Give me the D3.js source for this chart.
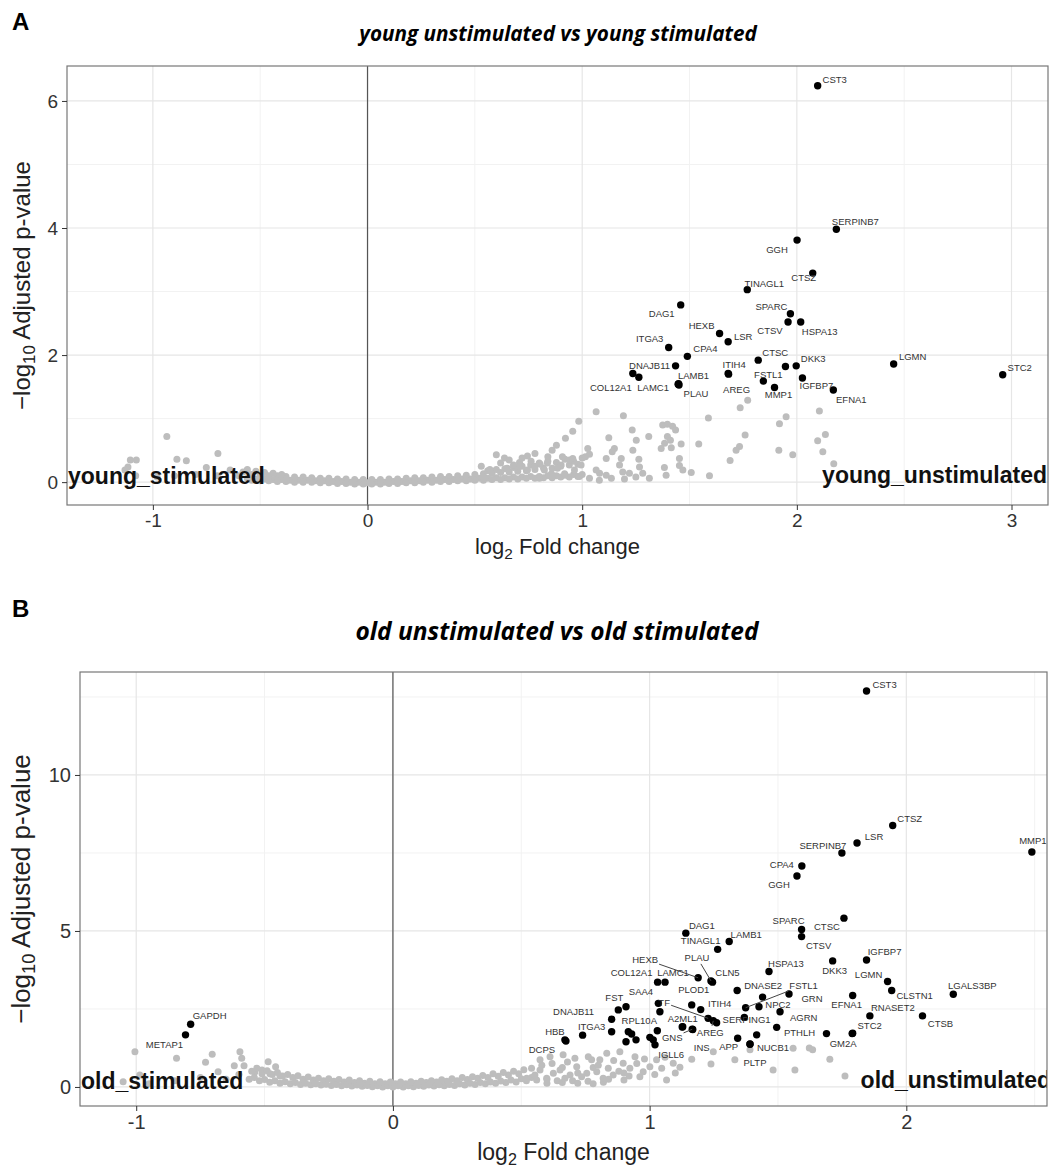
<!DOCTYPE html>
<html><head><meta charset="utf-8">
<script src="https://cdn.jsdelivr.net/npm/d3@7"></script>
<style>body{margin:0;background:#fff}</style></head>
<body>
<svg id="c" width="1051" height="1169"></svg>
<script>
// ---------------- DATA : panel A (young) ----------------
const titleA = "young unstimulated vs young stimulated";
const cornerA = ["young_stimulated", "young_unstimulated"];
const xTicksA = [-1, 0, 1, 2, 3];
const yTicksA = [0, 2, 4, 6];
const sigA_genes = ["CST3","SERPINB7","GGH","CTSZ","TINAGL1","DAG1","SPARC","CTSV","HSPA13","HEXB","LSR","ITGA3","CPA4","CTSC","","DKK3","LGMN","STC2","DNAJB11","COL12A1","","LAMB1","LAMC1","PLAU","ITIH4","AREG","FSTL1","MMP1","IGFBP7","EFNA1"];
const sigA_lfc = [2.097,2.184,2.001,2.074,1.769,1.459,1.970,1.959,2.018,1.640,1.680,1.403,1.490,1.820,1.947,1.997,2.451,2.959,1.435,1.236,1.264,1.449,1.447,1.451,1.680,1.682,1.844,1.896,2.026,2.170];
const sigA_p = [6.24,3.98,3.81,3.29,3.03,2.79,2.65,2.52,2.52,2.34,2.21,2.12,1.98,1.92,1.82,1.83,1.86,1.69,1.83,1.71,1.65,1.55,1.54,1.53,1.71,1.70,1.59,1.49,1.64,1.45];
const bgA = [
 [-0.935,0.72],[-1.077,0.35],[-1.105,0.35],[-0.888,0.36],[-0.844,0.335],[-0.697,0.45],[-1.116,0.24],[-0.751,0.23],[-1.13,0.19],[-1.08,0.1],[-0.98,0.08],[-0.9,0.1],[-0.8,0.12],[-0.7,0.1],[-0.64,0.19],[-0.6,0.1],[-0.55,0.09],
 [-0.56,0.06],[-0.52,0.05],[-0.48,0.05],[-0.44,0.04],[-0.40,0.04],[-0.36,0.03],[-0.32,0.03],[-0.28,0.03],[-0.24,0.02],[-0.20,0.02],[-0.16,0.01],[-0.12,0.01],[-0.08,0.0],[-0.04,0.0],[0.0,-0.01],[0.04,0.0],[0.08,0.0],[0.12,0.01],[0.16,0.01],[0.20,0.02],[0.24,0.02],[0.28,0.03],[0.32,0.03],[0.36,0.04],[0.40,0.04],[0.44,0.05],[0.48,0.05],[0.52,0.06],[0.56,0.06],[0.60,0.07],[0.64,0.07],[0.68,0.08],[0.72,0.08],[0.76,0.09],[0.80,0.09],[0.84,0.1],[0.88,0.1],[0.92,0.11],[0.96,0.12],[1.0,0.12],
 [-0.54,0.12],[-0.50,0.11],[-0.46,0.10],[-0.42,0.10],[-0.38,0.09],[-0.34,0.08],[-0.30,0.08],[-0.26,0.07],[-0.22,0.06],[-0.18,0.06],[-0.14,0.05],[-0.10,0.05],[-0.06,0.04],[-0.02,0.04],[0.02,0.04],[0.06,0.04],[0.10,0.05],[0.14,0.05],[0.18,0.06],[0.22,0.07],[0.26,0.07],[0.30,0.08],[0.34,0.09],[0.38,0.09],[0.42,0.10],[0.46,0.11],[0.50,0.12],[0.54,0.13],[0.58,0.14],[0.62,0.15],[0.66,0.16],[0.70,0.17],[0.74,0.18],[0.78,0.20],[0.82,0.22],[0.86,0.22],[0.90,0.25],[0.94,0.27],[0.98,0.28],
 [-0.54,0.03],[-0.50,0.02],[-0.46,0.02],[-0.42,0.01],[-0.38,0.01],[-0.34,0.0],[-0.30,0.0],[-0.26,0.0],[-0.22,-0.01],[-0.18,-0.01],[-0.14,-0.02],[-0.10,-0.02],[-0.06,-0.03],[-0.02,-0.03],[0.02,-0.03],[0.06,-0.03],[0.10,-0.02],[0.14,-0.02],[0.18,-0.01],[0.22,-0.01],[0.26,0.0],[0.30,0.0],[0.34,0.01],[0.38,0.01],[0.42,0.02],[0.46,0.02],[0.50,0.03],[0.54,0.03],[0.58,0.04],[0.62,0.04],[0.66,0.05],[0.70,0.05],[0.74,0.06],[0.78,0.06],[0.82,0.07],[0.86,0.07],[0.90,0.08],[0.94,0.08],[0.98,0.09],
 [-0.58,0.16],[-0.56,0.2],[-0.52,0.17],[-0.48,0.15],[-0.44,0.14],[-0.40,0.12],[0.56,0.18],[0.60,0.2],[0.64,0.21],[0.68,0.23],[0.72,0.25],[0.76,0.27],[0.80,0.3],[0.84,0.33],[0.88,0.31],[0.92,0.36],[0.96,0.33],[1.0,0.38],
 [0.60,0.43],[0.638,0.38],[0.708,0.31],[0.745,0.41],[0.762,0.33],[0.804,0.28],[0.53,0.25],[0.57,0.2],[0.65,0.22],[0.68,0.27],[0.62,0.3],[0.66,0.35],[0.72,0.38],[0.78,0.45],[0.84,0.4],[0.86,0.5],[0.88,0.58],
 [1.065,1.107],[1.192,1.044],[0.984,0.96],[0.956,0.80],[0.922,0.69],[1.124,0.70],[1.233,0.82],[1.252,0.66],[1.310,0.72],[1.375,0.90],[1.397,0.91],[1.421,0.88],[1.435,0.82],[1.397,0.72],[1.411,0.66],[1.384,0.61],[1.461,0.60],[1.543,0.60],[1.588,1.01],[1.736,1.17],[1.771,1.29],[1.759,0.74],[1.733,0.56],[1.717,0.50],[1.689,0.34],[1.593,0.10],[1.919,0.92],[1.950,1.03],[1.916,0.50],[1.981,0.43],[2.105,1.12],[2.133,0.75],[2.097,0.65],[2.121,0.48],[2.172,0.29],
 [1.026,0.53],[1.034,0.44],[1.015,0.40],[0.995,0.27],[1.150,0.53],[1.140,0.48],[1.112,0.37],[1.182,0.37],[1.174,0.27],[1.236,0.50],[1.264,0.36],[1.267,0.24],[1.282,0.14],[1.368,0.53],[1.415,0.54],[1.453,0.37],[1.383,0.23],[1.391,0.11],[1.453,0.26],[1.469,0.19],[1.508,0.15],[1.220,0.14],[1.189,0.16],[1.112,0.11],[1.081,0.14],[1.065,0.19],[0.908,0.40],[0.902,0.27],[0.941,0.35],[0.956,0.37],
 [0.824,0.19],[0.857,0.13],[0.885,0.22],[0.918,0.13],[0.964,0.19],[0.987,0.09],[0.838,0.30],[0.778,0.25],[0.745,0.19],[0.708,0.25],[0.801,0.06],[1.034,0.06],[1.08,0.03],[1.136,0.06],[1.197,0.05],[1.313,0.06],[1.25,0.08]
];
const labelPosA = {CST3:[17,-3],SERPINB7:[19,-4],GGH:[-20,13],CTSZ:[-9,8],TINAGL1:[17,-3],DAG1:[-19,12],SPARC:[-19,-4],CTSV:[-18,12],HSPA13:[19,13],HEXB:[-18,-4],LSR:[15,-2],ITGA3:[-19,-5],CPA4:[18,-4],CTSC:[17,-4],DKK3:[17,-4],LGMN:[19,-4],STC2:[17,-4],DNAJB11:[-26,3],COL12A1:[-22,18],LAMC1:[-25,7],LAMB1:[15,-5],PLAU:[17,12],AREG:[8,19],ITIH4:[6,-5],FSTL1:[5,-3],MMP1:[4,11],IGFBP7:[14,11],EFNA1:[18,13]};

// ---------------- DATA : panel B (old) ----------------
const titleB = "old unstimulated vs old stimulated";
const cornerB = ["old_stimulated", "old_unstimulated"];
const xTicksB = [-1, 0, 1, 2];
const yTicksB = [0, 5, 10];
const sigB_genes = ["CST3","CTSZ","LSR","SERPINB7","MMP1","CPA4","GGH","CTSC","SPARC","CTSV","DAG1","LAMB1","TINAGL1","IGFBP7","DKK3","HSPA13","LGMN","CLSTN1","LGALS3BP","HEXB","CLN5","PLAU","COL12A1","LAMC1","DNASE2","","GRN","FSTL1","NPC2","","","AGRN","","APP","NUCB1","PLTP","PTHLH","EFNA1","RNASET2","CTSB","STC2","GM2A","PLOD1","ITIH4","TF","AREG","SERPING1","","","FST","SAA4","DNAJB11","ITGA3","","HBB","DCPS","RPL10A","","","","","","","","A2ML1","IGLL6","GNS","INS","GAPDH","METAP1"];
const sigB_lfc = [1.845,1.947,1.808,1.749,2.489,1.593,1.574,1.757,1.592,1.592,1.141,1.310,1.265,1.845,1.713,1.465,1.927,1.943,2.183,1.189,1.245,1.239,1.031,1.060,1.341,1.440,1.543,1.374,1.426,1.508,1.369,1.495,1.417,1.343,1.391,1.391,1.689,1.791,1.858,2.063,1.791,1.789,1.164,1.199,1.228,1.248,1.261,1.034,1.040,0.878,0.908,0.852,0.852,0.739,0.670,0.674,0.917,0.930,0.908,0.947,1.001,1.014,1.021,1.030,1.129,1.127,1.166,1.168,-0.788,-0.808];
const sigB_p = [12.69,8.38,7.82,7.50,7.53,7.08,6.76,5.41,5.05,4.82,4.93,4.66,4.41,4.07,4.04,3.70,3.38,3.09,2.97,3.50,3.36,3.40,3.36,3.36,3.09,2.88,2.98,2.54,2.57,2.41,2.23,1.91,1.67,1.56,1.38,1.37,1.71,2.93,2.28,2.28,1.72,1.71,2.63,2.48,2.20,2.12,2.06,2.68,2.41,2.47,2.57,2.17,1.77,1.66,1.51,1.47,1.77,1.70,1.45,1.51,1.59,1.51,1.35,1.80,1.93,1.92,1.85,1.84,2.01,1.67];
const bgB = [
 [-1.005,1.13],[-0.843,0.92],[-0.730,0.79],[-0.704,1.05],[-0.596,1.13],[-0.589,0.92],[-0.580,0.68],[-0.618,0.68],[-0.681,0.49],[-0.486,0.81],[-0.457,0.65],[-1.051,0.17],[-0.986,0.38],[-0.538,0.48],[-0.51,0.54],[-0.479,0.42],[-0.44,0.35],[-0.95,0.1],[-0.85,0.2],[-0.75,0.3],[-0.65,0.25],[-0.6,0.4],
 [-0.56,0.25],[-0.52,0.2],[-0.48,0.15],[-0.44,0.12],[-0.40,0.1],[-0.36,0.08],[-0.32,0.07],[-0.28,0.06],[-0.24,0.05],[-0.20,0.04],[-0.16,0.03],[-0.12,0.02],[-0.08,0.01],[-0.04,0.0],[0.0,0.0],[0.04,0.0],[0.08,0.01],[0.12,0.02],[0.16,0.03],[0.20,0.04],[0.24,0.05],[0.28,0.06],[0.32,0.08],[0.36,0.1],[0.40,0.12],[0.44,0.14],[0.48,0.16],[0.52,0.2],
 [-0.55,0.5],[-0.51,0.42],[-0.47,0.4],[-0.43,0.35],[-0.39,0.3],[-0.35,0.25],[-0.31,0.22],[-0.27,0.2],[-0.23,0.18],[-0.19,0.16],[-0.15,0.14],[-0.11,0.12],[-0.07,0.1],[-0.03,0.1],[0.01,0.1],[0.05,0.1],[0.09,0.12],[0.13,0.14],[0.17,0.16],[0.21,0.18],[0.25,0.2],[0.29,0.24],[0.33,0.28],[0.37,0.3],[0.41,0.34],[0.45,0.38],[0.49,0.42],
 [-0.54,0.3],[-0.50,0.24],[-0.46,0.2],[-0.42,0.17],[-0.38,0.14],[-0.34,0.12],[-0.30,0.1],[-0.26,0.09],[-0.22,0.08],[-0.18,0.07],[-0.14,0.06],[-0.10,0.05],[-0.06,0.04],[-0.02,0.04],[0.02,0.04],[0.06,0.04],[0.10,0.05],[0.14,0.06],[0.18,0.07],[0.22,0.08],[0.26,0.1],[0.30,0.12],[0.34,0.14],[0.38,0.16],[0.42,0.19],[0.46,0.22],[0.50,0.26],[0.54,0.3],
 [-0.53,0.6],[-0.49,0.52],[-0.45,0.46],[-0.41,0.4],[-0.37,0.36],[-0.33,0.32],[-0.29,0.28],[-0.25,0.26],[-0.21,0.24],[-0.17,0.22],[-0.13,0.2],[-0.09,0.18],[-0.05,0.17],[-0.01,0.16],[0.03,0.16],[0.07,0.17],[0.11,0.18],[0.15,0.2],[0.19,0.23],[0.23,0.26],[0.27,0.3],[0.31,0.33],[0.35,0.37],[0.39,0.42],[0.43,0.46],[0.47,0.5],[0.51,0.55],
 [0.56,0.22],[0.60,0.25],[0.64,0.20],[0.70,0.20],[0.76,0.18],[0.82,0.15],[0.90,0.22],
 [0.54,0.6],[0.58,0.7],[0.62,0.75],[0.66,0.62],[0.68,0.8],[0.72,0.45],[0.78,0.62],[0.8,0.7],[0.86,0.85],[0.88,0.5],[0.92,0.35],[0.95,0.75],[0.98,0.9],[1.02,0.4],[1.06,0.95],[1.1,0.45],[0.6,0.12],[0.66,0.14],[0.72,0.12],[0.78,0.1],[0.84,0.25],[0.9,0.45],
 [0.521,0.28],[0.553,0.38],[0.573,0.54],[0.599,0.28],[0.625,0.44],[0.651,0.54],[0.670,0.28],[0.690,0.38],[0.716,0.65],[0.735,0.33],[0.755,0.44],[0.774,0.87],[0.794,0.49],[0.819,0.28],[0.839,0.60],[0.858,0.38],[0.884,1.13],[0.897,0.76],[0.923,0.60],[0.943,0.97],[0.962,0.33],[0.975,0.49],[1.001,0.65],[1.027,0.87],[1.047,0.60],[1.066,0.22],[1.092,0.76],[1.118,0.63],[1.164,0.89],[0.709,0.92],[0.761,0.97],[0.806,0.87],[0.573,0.87],[0.612,0.97],[0.663,1.03],[0.833,1.08],
 [1.248,1.13],[1.391,1.19],[1.481,0.54],[1.566,0.54],[1.635,1.19],[1.702,0.89],[1.761,0.35],[1.622,1.25],[1.559,1.24],[1.239,0.74],[1.332,0.87]
];
const labelPosB = {CST3:[18,-3],CTSZ:[17,-4],LSR:[17,-3],SERPINB7:[-19,-4],MMP1:[1,-8],CPA4:[-20,2],GGH:[-18,12],CTSC:[-17,12],SPARC:[-13,-5],CTSV:[17,12],DAG1:[16,-4],LAMB1:[17,-4],TINAGL1:[-17,-5],IGFBP7:[18,-5],DKK3:[2,13],HSPA13:[17,-5],LGMN:[-19,-4],CLSTN1:[23,8],LGALS3BP:[19,-5],HEXB:[-53,-15,1],CLN5:[15,-6],PLAU:[-14,-20,1],COL12A1:[-26,-6],LAMC1:[8,-6],DNASE2:[26,-2],GRN:[23,8],FSTL1:[58,-19,1],NPC2:[19,1],AGRN:[27,-6],APP:[-9,12],NUCB1:[23,7],PLTP:[5,22],PTHLH:[-27,2],EFNA1:[-6,12],RNASET2:[23,-5],CTSB:[18,11],STC2:[17,-4],GM2A:[-9,13],PLOD1:[2,-12],ITIH4:[19,-3],TF:[-44,-12,1],AREG:[-3,15,1],SERPING1:[30,0],FST:[-4,-9],SAA4:[15,-12],DNAJB11:[-38,-4],ITGA3:[-20,-2],HBB:[-10,-5],DCPS:[-24,12],RPL10A:[11,-8],A2ML1:[0,-5],IGLL6:[-11,31],GNS:[-20,12,1],INS:[9,21],GAPDH:[19,-5],METAP1:[-21,13]};

// ---------------- DRAWING ----------------
const svg = d3.select("#c");
svg.append("rect").attr("width",1051).attr("height",1169).attr("fill","#fff");
const FONT = "'Liberation Sans', Arial, sans-serif";

function fitText(sel, target){
  const w = sel.node().getComputedTextLength();
  const fs = parseFloat(sel.attr("font-size"));
  sel.attr("font-size", fs*target/w);
}

function edgePoint(b, px, py){
  const cx=b.x+b.width/2, cy=b.y+b.height/2, dx=px-cx, dy=py-cy;
  const tx = dx!==0 ? (b.width/2+1)/Math.abs(dx) : Infinity;
  const ty = dy!==0 ? (b.height/2+1)/Math.abs(dy) : Infinity;
  const t = Math.min(tx,ty,1);
  return [cx+dx*t, cy+dy*t];
}

function panel(cfg){
  const g = svg.append("g");
  const x = d3.scaleLinear().domain(cfg.xDomain).range([cfg.left, cfg.right]);
  const y = d3.scaleLinear().domain(cfg.yDomain).range([cfg.bottom, cfg.top]);
  const id = "clip"+cfg.key;
  svg.append("clipPath").attr("id",id).append("rect")
    .attr("x",cfg.left).attr("y",cfg.top).attr("width",cfg.right-cfg.left).attr("height",cfg.bottom-cfg.top);

  const grid = g.append("g");
  cfg.xMinor.forEach(v=>grid.append("line").attr("x1",x(v)).attr("x2",x(v)).attr("y1",cfg.top).attr("y2",cfg.bottom).attr("stroke","#f2f2f2").attr("stroke-width",1));
  cfg.yMinor.forEach(v=>grid.append("line").attr("y1",y(v)).attr("y2",y(v)).attr("x1",cfg.left).attr("x2",cfg.right).attr("stroke","#f2f2f2").attr("stroke-width",1));
  cfg.xTicks.forEach(v=>grid.append("line").attr("x1",x(v)).attr("x2",x(v)).attr("y1",cfg.top).attr("y2",cfg.bottom).attr("stroke","#e6e6e6").attr("stroke-width",1.2));
  cfg.yTicks.forEach(v=>grid.append("line").attr("y1",y(v)).attr("y2",y(v)).attr("x1",cfg.left).attr("x2",cfg.right).attr("stroke","#e6e6e6").attr("stroke-width",1.2));

  g.append("line").attr("x1",x(0)).attr("x2",x(0)).attr("y1",cfg.top).attr("y2",cfg.bottom).attr("stroke","#555").attr("stroke-width",1.2);

  const pts = g.append("g").attr("clip-path","url(#"+id+")");
  pts.selectAll("circle.bg").data(cfg.bg).enter().append("circle")
    .attr("cx",d=>x(d[0])).attr("cy",d=>y(d[1])).attr("r",3.5).attr("fill","#bdbdbd");
  const sig = cfg.genes.map((gname,i)=>({g:gname, x:cfg.lfc[i], y:cfg.p[i]}));
  pts.selectAll("circle.sig").data(sig).enter().append("circle")
    .attr("cx",d=>x(d.x)).attr("cy",d=>y(d.y)).attr("r",3.7).attr("fill","#000");

  const lab = g.append("g");
  sig.forEach(d=>{
    const pos = cfg.labelPos[d.g]; if(!pos || !d.g) return;
    const px=x(d.x), py=y(d.y);
    const t = lab.append("text").attr("x",px+pos[0]).attr("y",py+pos[1])
      .attr("text-anchor","middle").attr("font-family",FONT).attr("font-size",9.5)
      .attr("fill","#333").text(d.g);
    if(pos[2]){
      const b = t.node().getBBox();
      const e = edgePoint(b, px, py);
      lab.append("line").attr("x1",e[0]).attr("y1",e[1]).attr("x2",px).attr("y2",py)
        .attr("stroke","#444").attr("stroke-width",1);
    }
  });

  const ann = g.append("g").attr("clip-path","url(#"+id+")");
  ann.append("text").attr("x",cfg.left+1).attr("y",y(0)+2).attr("font-family",FONT).attr("font-weight","bold")
    .attr("font-size",23).attr("fill","#111").text(cfg.corner[0]);
  ann.append("text").attr("x",cfg.cornerRight).attr("y",y(0)+1).attr("text-anchor","end").attr("font-family",FONT).attr("font-weight","bold")
    .attr("font-size",23).attr("fill","#111").text(cfg.corner[1]);

  g.append("rect").attr("x",cfg.left).attr("y",cfg.top).attr("width",cfg.right-cfg.left).attr("height",cfg.bottom-cfg.top)
    .attr("fill","none").attr("stroke","#777").attr("stroke-width",1.2);

  const xa = g.append("g").attr("transform",`translate(0,${cfg.bottom})`)
    .call(d3.axisBottom(x).tickValues(cfg.xTicks).tickSize(5).tickPadding(4).tickFormat(d=>d<0?"-"+Math.abs(d):d));
  const ya = g.append("g").attr("transform",`translate(${cfg.left},0)`)
    .call(d3.axisLeft(y).tickValues(cfg.yTicks).tickSize(5).tickPadding(4).tickFormat(d=>d));
  [xa,ya].forEach(a=>{
    a.select(".domain").remove();
    a.selectAll(".tick line").attr("stroke","#333");
    a.selectAll(".tick text").attr("font-family",FONT).attr("font-size",cfg.tickFont).attr("fill","#333");
  });

  const xt = g.append("text").attr("x",(cfg.left+cfg.right)/2).attr("y",cfg.xTitleY).attr("text-anchor","middle")
    .attr("font-family",FONT).attr("font-size",cfg.xTitleFont).attr("fill","#222");
  xt.append("tspan").text("log");
  xt.append("tspan").attr("font-size",cfg.xTitleFont*0.7).attr("dy",5).text("2");
  xt.append("tspan").attr("dy",-5).text(" Fold change");

  const yt = g.append("text").attr("transform",`translate(${cfg.yTitleX},${(cfg.top+cfg.bottom)/2}) rotate(-90)`)
    .attr("text-anchor","middle").attr("font-family",FONT).attr("font-size",cfg.yTitleFont).attr("fill","#222");
  yt.append("tspan").text("\u2212log");
  yt.append("tspan").attr("font-size",cfg.yTitleFont*0.7).attr("dy",5).text("10");
  yt.append("tspan").attr("dy",-5).text(" Adjusted p-value");

  const mt = svg.append("text").attr("x",cfg.titleX).attr("y",cfg.titleY).attr("text-anchor","middle")
    .attr("font-family","'Open Sans', sans-serif").attr("font-weight","bold").attr("font-style","italic")
    .attr("font-size",20).attr("fill","#000").text(cfg.title);
  fitText(mt, cfg.titleW);
  svg.append("text").attr("x",12).attr("y",cfg.letterY).attr("font-family",FONT).attr("font-weight","bold")
    .attr("font-size",24).attr("fill","#000").text(cfg.letter);
}

panel({key:"A", left:67, right:1048, top:66, bottom:505, xDomain:[-1.40,3.17], yDomain:[-0.36,6.55],
  xTicks:xTicksA, xMinor:[-0.5,0.5,1.5,2.5], yTicks:yTicksA, yMinor:[1,3,5],
  genes:sigA_genes, lfc:sigA_lfc, p:sigA_p, bg:bgA, labelPos:labelPosA, corner:cornerA, cornerRight:1047,
  tickFont:19, xTitleFont:22, yTitleFont:24, xTitleY:554, yTitleX:30, title:titleA, titleX:558, titleY:41, titleW:398, letter:"A", letterY:30});

panel({key:"B", left:80, right:1047, top:672, bottom:1106, xDomain:[-1.219,2.548], yDomain:[-0.61,13.30],
  xTicks:xTicksB, xMinor:[-0.5,0.5,1.5,2.5], yTicks:yTicksB, yMinor:[2.5,7.5,12.5],
  genes:sigB_genes, lfc:sigB_lfc, p:sigB_p, bg:bgB, labelPos:labelPosB, corner:cornerB, cornerRight:1051,
  tickFont:20, xTitleFont:23, yTitleFont:26, xTitleY:1160, yTitleX:30, title:titleB, titleX:557, titleY:640, titleW:403, letter:"B", letterY:617});
</script>
</body></html>
